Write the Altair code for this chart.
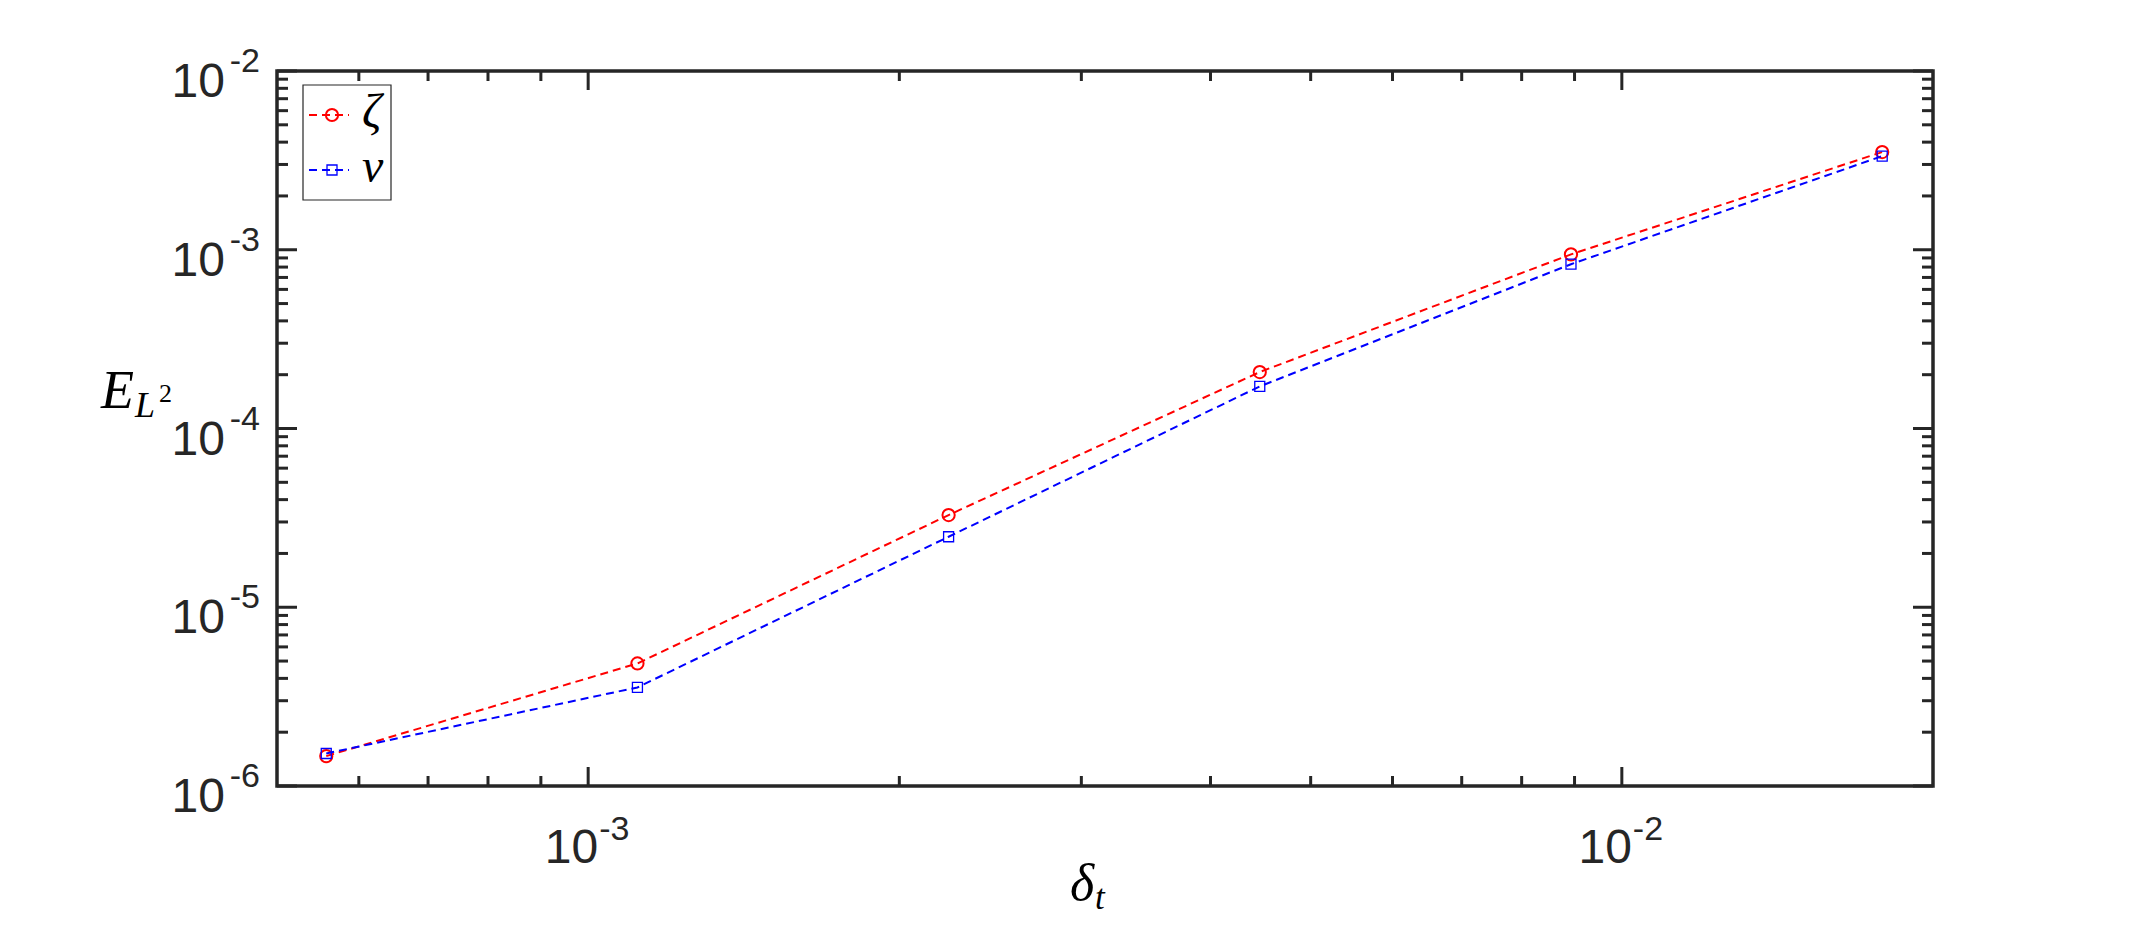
import altair as alt
import pandas as pd

# ---- data ----
dt = [5.58e-4, 1.116e-3, 2.232e-3, 4.464e-3, 8.929e-3, 1.786e-2]
err_zeta = [1.47e-6, 4.85e-6, 3.28e-5, 2.07e-4, 9.42e-4, 3.52e-3]
err_v = [1.52e-6, 3.56e-6, 2.48e-5, 1.72e-4, 8.30e-4, 3.34e-3]

x_major = [1e-3, 1e-2]
x_major_exp = ["-3", "-2"]
x_minor = [6e-4, 7e-4, 8e-4, 9e-4, 2e-3, 3e-3, 4e-3, 5e-3, 6e-3, 7e-3, 8e-3, 9e-3]
y_major = [1e-6, 1e-5, 1e-4, 1e-3, 1e-2]
y_major_exp = ["-6", "-5", "-4", "-3", "-2"]
y_minor = [m * 10.0 ** e for e in [-6, -5, -4, -3] for m in range(2, 10)]

# ---- layout / style ----
W, H = 1656, 715
AX = "#262626"
SANS = "Liberation Sans"
SERIF = "Liberation Serif"
DASH = [8, 5]

xs = alt.Scale(type="log", domain=[5e-4, 2e-2], nice=False)
ys = alt.Scale(type="log", domain=[1e-6, 1e-2], nice=False)

df = pd.DataFrame({"dt": dt, "zeta": err_zeta, "v": err_v})

def series(field, color, shape, size, sw):
    base = alt.Chart(df).encode(
        x=alt.X("dt:Q", scale=xs, axis=None),
        y=alt.Y(f"{field}:Q", scale=ys, axis=None),
    )
    line = base.mark_line(color=color, strokeWidth=2, strokeDash=DASH)
    pts = base.mark_point(shape=shape, filled=False, size=size, color=color,
                          strokeWidth=sw, opacity=1)
    return line + pts

def xticks(vals, length):
    d = pd.DataFrame({"t": vals})
    enc_x = alt.X("t:Q", scale=xs, axis=None)
    bot = alt.Chart(d).mark_rule(color=AX, strokeWidth=3).encode(
        x=enc_x, y=alt.value(H), y2=alt.value(H - length))
    top = alt.Chart(d).mark_rule(color=AX, strokeWidth=3).encode(
        x=enc_x, y=alt.value(0), y2=alt.value(length))
    return bot + top

def yticks(vals, length):
    d = pd.DataFrame({"t": vals})
    enc_y = alt.Y("t:Q", scale=ys, axis=None)
    left = alt.Chart(d).mark_rule(color=AX, strokeWidth=3).encode(
        y=enc_y, x=alt.value(0), x2=alt.value(length))
    right = alt.Chart(d).mark_rule(color=AX, strokeWidth=3).encode(
        y=enc_y, x=alt.value(W), x2=alt.value(W - length))
    return left + right

# tick labels 10^e built from base and superscript
xl = pd.DataFrame({"t": x_major, "e": x_major_exp})
x_base = alt.Chart(xl).mark_text(text="10", font=SANS, fontSize=48, color=AX,
                                 align="right", baseline="alphabetic", dx=10).encode(
    x=alt.X("t:Q", scale=xs, axis=None), y=alt.value(H + 77))
x_exp = alt.Chart(xl).mark_text(font=SANS, fontSize=34, color=AX,
                                align="left", baseline="alphabetic", dx=11).encode(
    x=alt.X("t:Q", scale=xs, axis=None), y=alt.value(H + 54), text="e:N")

yl = pd.DataFrame({"t": y_major, "e": y_major_exp})
y_base = alt.Chart(yl).mark_text(text="10", font=SANS, fontSize=48, color=AX,
                                 align="right", baseline="alphabetic", dy=26).encode(
    y=alt.Y("t:Q", scale=ys, axis=None), x=alt.value(-52))
y_exp = alt.Chart(yl).mark_text(font=SANS, fontSize=34, color=AX,
                                align="right", baseline="alphabetic", dy=1).encode(
    y=alt.Y("t:Q", scale=ys, axis=None), x=alt.value(-17), text="e:N")

one = pd.DataFrame({"a": [0]})

def txt(s, x, y, size, font=SERIF, style="italic", color="black", align="left"):
    return alt.Chart(one).mark_text(text=s, font=font, fontSize=size, fontStyle=style,
                                    color=color, align=align, baseline="alphabetic").encode(
        x=alt.value(x), y=alt.value(y))

# axis titles
ytitle = (txt("E", -176, 337, 54) + txt("L", -142, 346, 36) +
          txt("2", -118, 331, 26, style="normal"))
xtitle = txt("δ", 793, 829, 52) + txt("t", 818, 838, 35)

# legend (manual, MATLAB style)
leg_box = alt.Chart(one).mark_rect(fill="white", stroke=AX, strokeWidth=1.2).encode(
    x=alt.value(26), x2=alt.value(114), y=alt.value(14), y2=alt.value(129))

def leg_row(color, shape, size, sw, yy, label):
    seg = alt.Chart(one).mark_rule(color=color, strokeWidth=2, strokeDash=DASH).encode(
        x=alt.value(32), x2=alt.value(72), y=alt.value(yy))
    mk = alt.Chart(one).mark_point(shape=shape, filled=False, size=size, color=color,
                                   strokeWidth=sw, opacity=1).encode(
        x=alt.value(55), y=alt.value(yy))
    return seg + mk + txt(label, 85, yy + 12, 48)

legend = (leg_box + leg_row("#ff0000", "circle", 150, 2, 44, "ζ") +
          leg_row("#0000ff", "square", 100, 1.3, 99, "v"))

chart = alt.layer(
    xticks(x_major, 19), xticks(x_minor, 10),
    yticks(y_major, 20), yticks(y_minor, 11),
    series("zeta", "#ff0000", "circle", 150, 2),
    series("v", "#0000ff", "square", 100, 1.3),
    x_base, x_exp, y_base, y_exp, ytitle, xtitle, legend,
).properties(
    width=W, height=H,
    autosize=alt.AutoSizeParams(type="none"),
    padding={"left": 269, "top": 63, "right": 160, "bottom": 140},
).configure_view(stroke=AX, strokeWidth=3.5, fill="white")

chart.save("out.html", embed_options={"renderer": "svg", "actions": False})
